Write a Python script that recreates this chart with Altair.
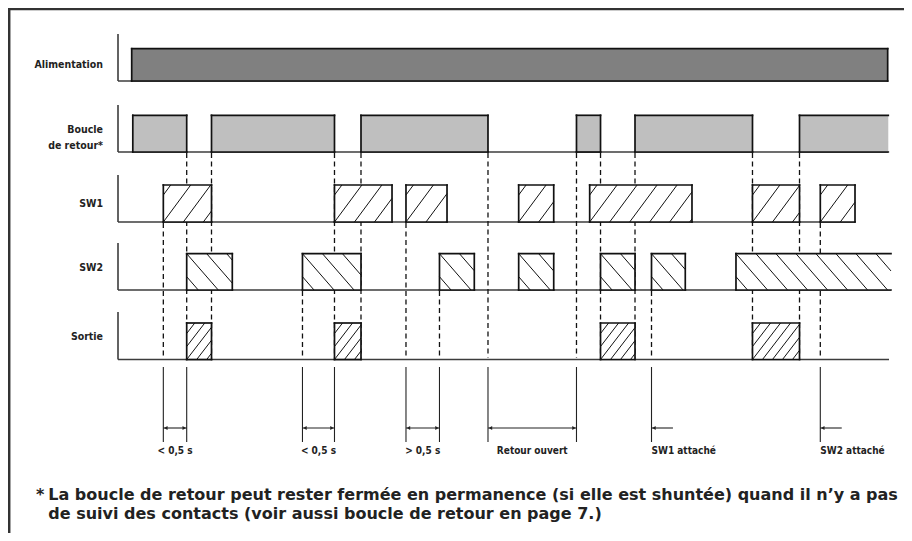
import math
import altair as alt
import pandas as pd

# ---------------- data (time in seconds) ----------------
row_labels = ["Alimentation", "Boucle\nde retour*", "SW1", "SW2", "Sortie"]

alim_start = [0.0]
alim_end = [13.745]

boucle_start = [0.02, 1.451, 4.169, 8.087, 9.151, 12.142]
boucle_end = [1.0, 3.687, 6.478, 8.524, 11.287, 13.756]

sw1_start = [0.575, 3.687, 4.987, 7.036, 8.327, 11.287, 12.52]
sw1_end = [1.451, 4.733, 5.733, 7.673, 10.187, 12.142, 13.151]

sw2_start = [1.0, 3.105, 5.596, 7.036, 8.524, 9.451, 10.987]
sw2_end = [1.829, 4.169, 6.229, 7.673, 9.151, 10.065, 13.805]

sortie_start = [1.0, 3.687, 8.524, 11.287]
sortie_end = [1.451, 4.169, 9.151, 12.142]

# the last "Boucle" pulse and the last SW2 pulse stay open (no right edge)
open_last = [False, True, False, True, False]

# dashed event markers: time and the row under which they start
dash_t = [0.575, 1.0, 1.451, 3.105, 3.687, 4.169, 4.987, 5.596, 6.478,
          8.087, 8.524, 9.151, 9.451, 11.287, 12.142, 12.52]
dash_from = [2, 1, 1, 3, 1, 1, 2, 3, 1, 1, 1, 1, 3, 1, 1, 2]

# measurement annotations
meas_labels = ["< 0,5 s", "< 0,5 s", "> 0,5 s", "Retour ouvert", "SW1 attaché", "SW2 attaché"]
meas_start = [0.575, 3.105, 4.987, 6.478, 9.451, 12.52]
meas_end = [1.0, 3.687, 5.596, 8.087, None, None]

footnote_star = "*"
footnote_lines = [
    "La boucle de retour peut rester fermée en permanence (si elle est shuntée) quand il n’y a pas",
    "de suivi des contacts (voir aussi boucle de retour en page 7.)",
]

# ---------------- layout ----------------
W, H = 896, 525
PX_S, T0 = 55.0, 131.7          # pixels per second, image x of t = 0


def t_of(px):
    return (px - T0) / PX_S


AXIS_T = t_of(118)
ROW_AXIS_TOP = [34, 105, 175, 243, 312]
ROW_TOP = [48.7, 115.3, 185, 253.7, 323]
ROW_BASE = [81, 152, 222, 290, 359.5]
ROW_LABEL_Y = [64.5, 130, 203.5, 268, 337]
ROW_LINE_END = [t_of(888), t_of(888), None, t_of(891), t_of(889)]
ROW_FILL = ["#808080", "#bfbfbf", "white", "white", "white"]
HATCH = {2: ("/", 1.35, 20.0), 3: ("\\", 1.15, 20.0), 4: ("/", 1.3, 10.0)}
FONT = "DejaVu Sans Condensed"
INK = "#111111"

xs = alt.Scale(domain=[t_of(8), t_of(8 + W)], range=[0, W], nice=False, zero=False)
ys = alt.Scale(domain=[8, 8 + H], range=[0, H], nice=False, zero=False)


def X(f="x"):
    return alt.X(f"{f}:Q", scale=xs, axis=None)


def Y(f="y"):
    return alt.Y(f"{f}:Q", scale=ys, axis=None)


starts = [alim_start, boucle_start, sw1_start, sw2_start, sortie_start]
ends = [alim_end, boucle_end, sw1_end, sw2_end, sortie_end]

boxes, edges, hatch, axes = [], [], [], []
for r in range(5):
    top, base = ROW_TOP[r], ROW_BASE[r]
    n = len(starts[r])
    for i, (a, b) in enumerate(zip(starts[r], ends[r])):
        boxes.append(dict(x=a, x2=b, y=top, y2=base, fill=ROW_FILL[r]))
        edges += [dict(x=a, x2=b, y=top, y2=top), dict(x=a, x2=a, y=top, y2=base),
                  dict(x=a, x2=b, y=base, y2=base)]
        if not (open_last[r] and i == n - 1):
            edges.append(dict(x=b, x2=b, y=top, y2=base))
        if r in HATCH:
            d, s, sp = HATCH[r]
            x0, x1 = T0 + a * PX_S, T0 + b * PX_S
            run = (base - top) / s
            c = x0 - sp * math.ceil(run / sp)
            while c < x1:
                p, q = max(c, x0), min(c + run, x1)
                if q - p > 0.6:
                    if d == "/":
                        ya, yb = base - s * (p - c), base - s * (q - c)
                    else:
                        ya, yb = top + s * (p - c), top + s * (q - c)
                    hatch.append(dict(x=t_of(p), x2=t_of(q), y=ya, y2=yb))
                c += sp
    line_end = ROW_LINE_END[r] if ROW_LINE_END[r] is not None else ends[r][-1]
    axes += [dict(x=AXIS_T, x2=AXIS_T, y=ROW_AXIS_TOP[r], y2=base),
             dict(x=AXIS_T, x2=line_end, y=base, y2=base)]

boxes, edges, hatch, axes = map(pd.DataFrame, (boxes, edges, hatch, axes))

dashes = pd.DataFrame(dict(x=dash_t, y=[ROW_BASE[r] + 1 for r in dash_from]))
dashes["y2"] = ROW_BASE[4] - 2

M_TOP, M_BOT, M_ARROW, M_TEXT = 367, 442, 428, 450.5
SINGLE_LEN = 0.39
HEAD = 0.045
mlines, arrows, heads, mtext = [], [], [], []
for lab, a, b in zip(meas_labels, meas_start, meas_end):
    mlines.append(dict(x=a, y=M_TOP, y2=M_BOT))
    if b is not None:
        mlines.append(dict(x=b, y=M_TOP, y2=M_BOT))
        arrows.append(dict(x=a, x2=b, y=M_ARROW))
        heads += [dict(x=a + HEAD, y=M_ARROW, shape="triangle-left"),
                  dict(x=b - HEAD, y=M_ARROW, shape="triangle-right")]
        mtext.append(dict(x=(a + b) / 2, y=M_TEXT, text=lab, align="center"))
    else:
        arrows.append(dict(x=a, x2=a + SINGLE_LEN, y=M_ARROW))
        heads.append(dict(x=a + HEAD, y=M_ARROW, shape="triangle-left"))
        mtext.append(dict(x=a, y=M_TEXT, text=lab, align="left"))
mlines, arrows, heads, mtext = map(pd.DataFrame, (mlines, arrows, heads, mtext))

labels = pd.DataFrame(dict(x=[t_of(103)] * 5, y=ROW_LABEL_Y, text=row_labels))

# ---------------- layers ----------------
frame = alt.Chart(pd.DataFrame({"k": [0]})).mark_rule(color="#333333", strokeWidth=2.5)
frame_top = frame.encode(x=alt.value(0), x2=alt.value(W), y=alt.value(1))
frame_left = frame.encode(x=alt.value(1.2), y=alt.value(0), y2=alt.value(H))

axis_layer = alt.Chart(axes).mark_rule(color="#3c3c3c", strokeWidth=1.6).encode(
    x=X(), x2="x2:Q", y=Y(), y2="y2:Q")

dash_layer = alt.Chart(dashes).mark_rule(color=INK, strokeWidth=1.3, strokeDash=[5, 3.5]).encode(
    x=X(), y=Y(), y2="y2:Q")

box_layer = alt.Chart(boxes).mark_rect(strokeWidth=0).encode(
    x=X(), x2="x2:Q", y=Y(), y2="y2:Q", fill=alt.Fill("fill:N", scale=None))

hatch_layer = alt.Chart(hatch).mark_rule(color=INK, strokeWidth=1.0).encode(
    x=X(), x2="x2:Q", y=Y(), y2="y2:Q")

edge_layer = alt.Chart(edges).mark_rule(color=INK, strokeWidth=1.7, strokeCap="square").encode(
    x=X(), x2="x2:Q", y=Y(), y2="y2:Q")

mline_layer = alt.Chart(mlines).mark_rule(color="#222222", strokeWidth=1.1).encode(
    x=X(), y=Y(), y2="y2:Q")

arrow_layer = alt.Chart(arrows).mark_rule(color="#222222", strokeWidth=1.1).encode(
    x=X(), x2="x2:Q", y=Y())

head_layer = alt.Chart(heads).mark_point(filled=True, size=16, color="#222222", opacity=1).encode(
    x=X(), y=Y(), shape=alt.Shape("shape:N", scale=None))

mtext_c = alt.Chart(mtext[mtext["align"] == "center"]).mark_text(
    font=FONT, fontWeight="bold", fontSize=10, color="#222222", align="center", baseline="middle"
).encode(x=X(), y=Y(), text="text:N")
mtext_l = alt.Chart(mtext[mtext["align"] == "left"]).mark_text(
    font=FONT, fontWeight="bold", fontSize=10, color="#222222", align="left", baseline="middle"
).encode(x=X(), y=Y(), text="text:N")

label_layer = alt.Chart(labels).mark_text(
    font=FONT, fontWeight="bold", fontSize=10.5, color="#222222", align="right",
    baseline="middle", lineBreak="\n", lineHeight=15.5
).encode(x=X(), y=Y(), text="text:N")

foot_df = pd.DataFrame(dict(y=[495, 514], text=footnote_lines))
foot_layer = alt.Chart(foot_df).mark_text(
    font="DejaVu Sans", fontWeight="bold", fontSize=16, color="#222222", align="left", baseline="middle"
).encode(x=alt.value(40.3), y=Y(), text="text:N")
star_layer = alt.Chart(pd.DataFrame(dict(y=[495], text=[footnote_star]))).mark_text(
    font="DejaVu Sans", fontWeight="bold", fontSize=16, color="#222222", align="left", baseline="middle"
).encode(x=alt.value(28), y=Y(), text="text:N")

chart = alt.layer(
    frame_top, frame_left, axis_layer, dash_layer, box_layer, hatch_layer, edge_layer,
    mline_layer, arrow_layer, head_layer, mtext_c, mtext_l, label_layer, foot_layer, star_layer
).properties(
    width=W, height=H, padding=0, autosize="none", background="white"
).configure_view(stroke=None)

chart.save("out.html", embed_options={"renderer": "svg", "actions": False})
